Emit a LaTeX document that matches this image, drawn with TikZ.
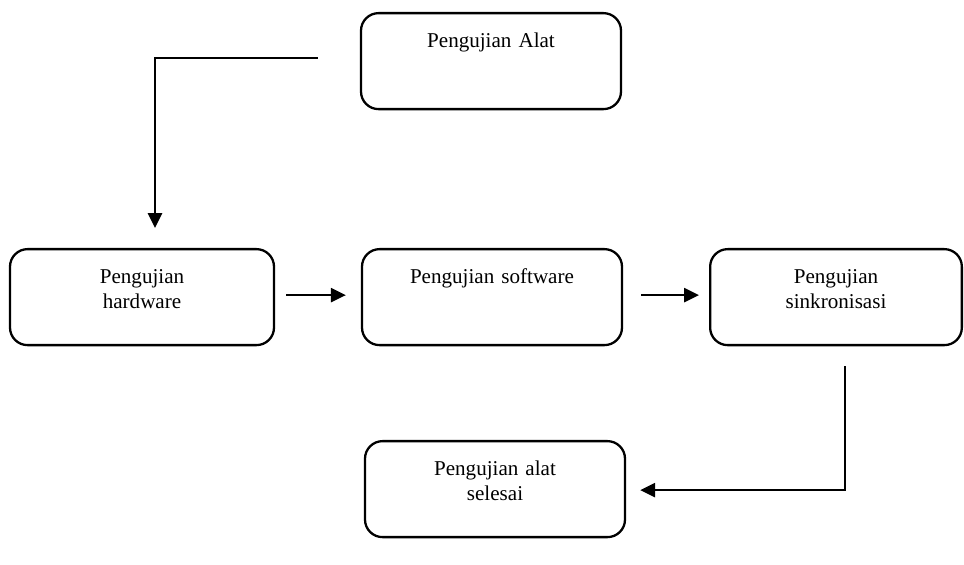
\documentclass[tikz,border=0pt]{standalone}
\usepackage{fontspec}
\setmainfont{Liberation Serif}
\usetikzlibrary{arrows.meta,positioning,calc}

\begin{document}
\begin{tikzpicture}[
  >={Triangle[length=8.5pt,width=8pt]},
  box/.style={draw, line width=1.3pt, rounded corners=10pt, anchor=north,
              align=center, text width=4.8cm, minimum width=5.2cm,
              inner ysep=0pt, text height=0.68cm, text depth=1.24cm,
              font=\fontsize{12}{14.5}\selectfont},
  e/.style={->, draw, line width=1.3pt}
]
\useasboundingbox (0,0) rectangle (19.28,11.3);

% ---- boxes
\node[box] (alat) at (9.82,11.06) {Pengujian Alat};
\node[box, minimum width=5.28cm] (hw) at (2.84,6.34) {Pengujian\\ hardware};
\node[box] (sw) at (9.84,6.34) {Pengujian software};
\node[box, minimum width=5.0cm] (sink) at (16.72,6.34) {Pengujian\\ sinkronisasi};
\node[box] (done) at (9.9,2.5) {Pengujian alat\\ selesai};

% ---- edges
\draw[e] ($(alat.west)+(-0.84,0.06)$) -| ($(hw.north)+(0.26,0.4)$);
\draw[e, shorten <=0.22cm, shorten >=0.3cm] ($(hw.east)+(0,0.04)$) -- ($(sw.west)+(0,0.04)$);
\draw[e, shorten <=0.36cm, shorten >=0.2cm] ($(sw.east)+(0,0.04)$) -- ($(sink.west)+(0,0.04)$);
\draw[e] ($(sink.south)+(0.18,-0.4)$) |- ($(done.east)+(0.28,-0.02)$);
\end{tikzpicture}
\end{document}
